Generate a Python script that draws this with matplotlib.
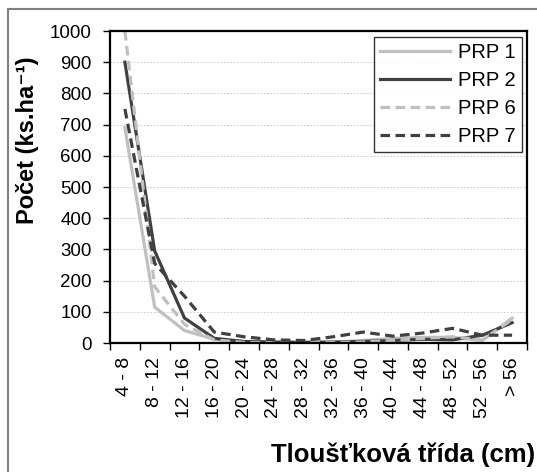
import matplotlib
matplotlib.use("Agg")
import matplotlib.pyplot as plt
from matplotlib.patches import Rectangle

plt.rcParams['font.family'] = ['Liberation Sans', 'DejaVu Sans']

# diameter classes (cm)
classes = ['4 - 8', '8 - 12', '12 - 16', '16 - 20', '20 - 24', '24 - 28', '28 - 32',
           '32 - 36', '36 - 40', '40 - 44', '44 - 48', '48 - 52', '52 - 56', '> 56']

# stems per hectare for each plot
prp1 = [690, 115, 40, 12, 3, 2, 2, 3, 8, 15, 18, 18, 8, 80]
prp2 = [900, 295, 80, 15, 5, 3, 2, 3, 5, 8, 12, 10, 25, 65]
prp6 = [1000, 180, 60, 10, 2, 1, 1, 2, 3, 8, 15, 20, 10, 75]
prp7 = [750, 255, 150, 35, 20, 10, 8, 20, 35, 22, 32, 47, 25, 25]

light = '#c0c0c0'
dark = '#404040'

fig = plt.figure(figsize=(5.37, 4.72), dpi=100)
fig.patch.set_facecolor('white')

# chart area frame
fig.patches.append(Rectangle((8 / 537, -0.1), 1.2, 1 - 9 / 472 + 0.1,
                             transform=fig.transFigure, fill=False,
                             edgecolor='#808080', linewidth=1.5))

ax = fig.add_axes([110 / 537, 1 - 343 / 472, 417 / 537, 312 / 472])
x = list(range(len(classes)))

ax.plot(x, prp1, color=light, lw=2.3, label='PRP 1')
ax.plot(x, prp2, color=dark, lw=2.3, label='PRP 2')
ax.plot(x, prp6, color=light, lw=2.3, dashes=(3, 1.7), label='PRP 6')
ax.plot(x, prp7, color=dark, lw=2.3, dashes=(3, 1.7), label='PRP 7')

ax.set_xlim(-0.5, len(classes) - 0.5)
ax.set_ylim(0, 1000)
ax.set_yticks(range(0, 1001, 100))
ax.yaxis.grid(True, color='#c8c8c8', linestyle=(0, (2, 2)), lw=0.6)
ax.set_axisbelow(True)

ax.set_xticks(x)
ax.set_xticklabels(classes, rotation=90, ha='center', va='top')
ax.set_xticks([i - 0.5 for i in range(len(classes) + 1)], minor=True)
ax.tick_params(axis='x', which='major', length=0, pad=10, labelsize=14)
ax.tick_params(axis='x', which='minor', length=5, width=1, direction='out')
ax.tick_params(axis='y', length=5, width=1, direction='out', labelsize=13.5, pad=8)

for s in ax.spines.values():
    s.set_linewidth(1.6)
    s.set_color('black')

leg = ax.legend(loc='upper right', bbox_to_anchor=(522 / 537, 1 - 37 / 472),
                bbox_transform=fig.transFigure, fontsize=14.5, frameon=True,
                fancybox=False, edgecolor='black', handlelength=3.5,
                labelspacing=0.45, borderpad=0.3, handletextpad=0.4,
                borderaxespad=0)
leg.get_frame().set_linewidth(1.0)

fig.text(28 / 537, 1 - 140 / 472, 'Počet (ks.ha⁻¹)', rotation=90,
         ha='center', va='center', fontsize=17, fontweight='bold')
fig.text(535 / 537, 1 - 462 / 472, 'Tloušťková třída (cm)', ha='right',
         va='baseline', fontsize=18.5, fontweight='bold')

fig.savefig('out.png', dpi=100)
